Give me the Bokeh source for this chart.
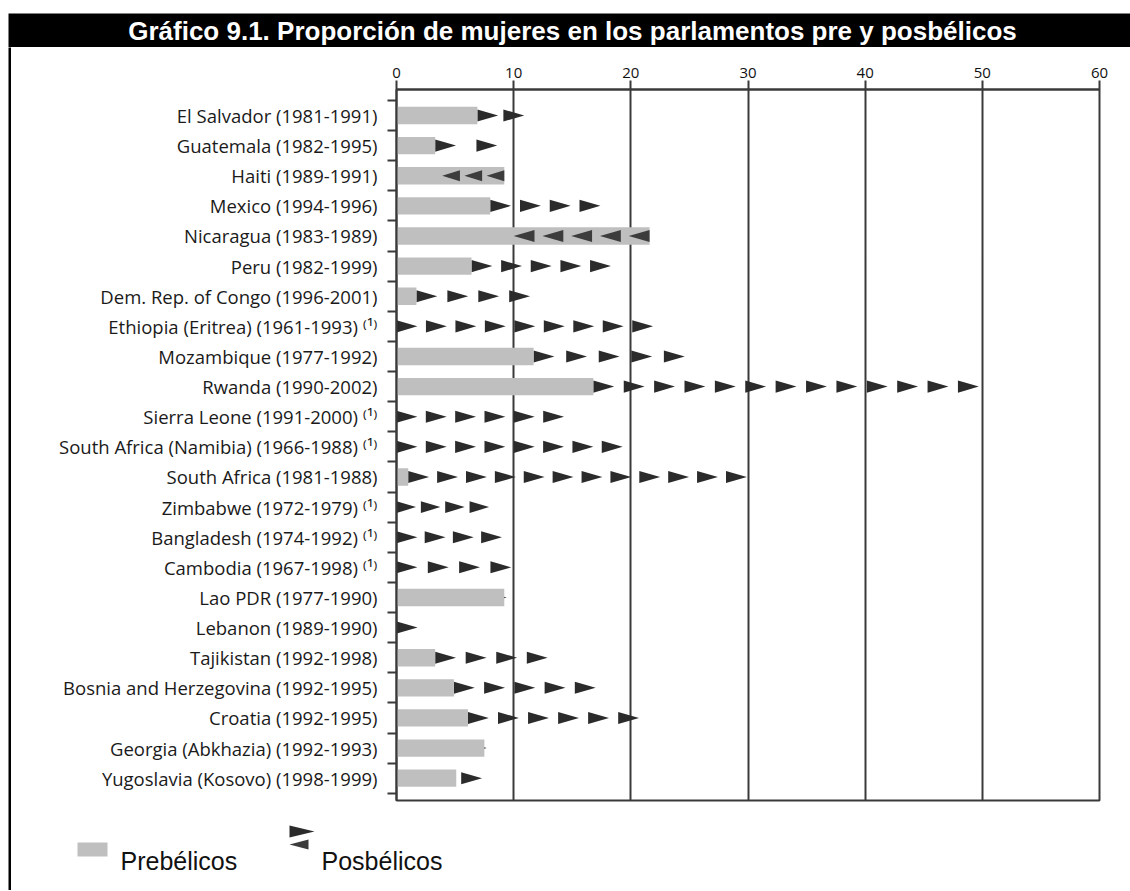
from bokeh.plotting import figure
from bokeh.models import Range1d, FixedTicker
from bokeh.layouts import column, row
from bokeh.core.properties import value
from bokeh.embed import file_html
from bokeh.resources import INLINE

# ---------------- data ----------------
paises = [
    "El Salvador (1981-1991)",
    "Guatemala (1982-1995)",
    "Haiti (1989-1991)",
    "Mexico (1994-1996)",
    "Nicaragua (1983-1989)",
    "Peru (1982-1999)",
    "Dem. Rep. of Congo (1996-2001)",
    "Ethiopia (Eritrea) (1961-1993) \u207d\u00b9\u207e",
    "Mozambique (1977-1992)",
    "Rwanda (1990-2002)",
    "Sierra Leone (1991-2000) \u207d\u00b9\u207e",
    "South Africa (Namibia) (1966-1988) \u207d\u00b9\u207e",
    "South Africa (1981-1988)",
    "Zimbabwe (1972-1979) \u207d\u00b9\u207e",
    "Bangladesh (1974-1992) \u207d\u00b9\u207e",
    "Cambodia (1967-1998) \u207d\u00b9\u207e",
    "Lao PDR (1977-1990)",
    "Lebanon (1989-1990)",
    "Tajikistan (1992-1998)",
    "Bosnia and Herzegovina (1992-1995)",
    "Croatia (1992-1995)",
    "Georgia (Abkhazia) (1992-1993)",
    "Yugoslavia (Kosovo) (1998-1999)",
]
prebelicos = [6.9, 3.3, 9.2, 8.0, 21.6, 6.4, 1.7, 0.0, 11.7, 16.8, 0.0, 0.0,
              1.0, 0.0, 0.0, 0.0, 9.2, 0.0, 3.3, 4.9, 6.1, 7.5, 5.1]
posbelicos = [10.9, 8.6, 3.9, 17.4, 10.0, 18.3, 11.4, 21.9, 24.6, 49.7, 14.3, 19.3,
              29.9, 7.9, 9.0, 9.8, 9.4, 1.8, 12.9, 17.0, 20.7, 7.7, 7.3]
marcas = [2, 2, 3, 4, 5, 5, 4, 9, 5, 13, 6, 8, 12, 4, 4, 4, 1, 1, 4, 5, 6, 1, 1]
x_ticks = [0, 10, 20, 30, 40, 50, 60]
titulo = "Gráfico 9.1. Proporción de mujeres en los parlamentos pre y posbélicos"
leyenda = ["Prebélicos", "Posbélicos"]

# ---------------- style constants ----------------
PAGE_W = 1130
TITLE_H, MAIN_H, LEG_H = 47, 763, 80
X_IN = 11  # page x where the content right of the left border starts
GRID = "#3a3a3a"
BAR = "#bfbfbf"
MARK_R = "#2b2b2b"
MARK_L = "#3c3c3c"
N = len(paises)
rows = list(range(N))


def blank(x0, x1, y0, y1):
    f = figure(width=x1 - x0, height=y1 - y0, x_range=Range1d(x0, x1), y_range=Range1d(y1, y0),
               x_axis_location=None, y_axis_location=None, min_border=0,
               output_backend="svg", toolbar_location=None)
    f.grid.visible = False
    f.outline_line_color = None
    f.background_fill_color = "white"
    f.border_fill_color = "white"
    return f


# ---------------- title bar ----------------
t = blank(0, PAGE_W, 0, TITLE_H)
t.quad(left=[8], right=[PAGE_W], top=[13], bottom=[46.7], fill_color="black", line_color=None)
t.text(x=[572], y=[30], text=[titulo], text_align="center", text_baseline="middle",
       text_color="white", text_font=value("Liberation Sans"), text_font_style="bold",
       text_font_size="26px")

# ---------------- left border strip (3px wide, placed at x=8) ----------------
s = figure(width=3, height=MAIN_H + LEG_H, x_range=Range1d(0, 1), y_range=Range1d(0, 1),
           x_axis_location=None, y_axis_location=None, min_border=0, margin=(0, 0, 0, 8),
           output_backend="svg", toolbar_location=None)
s.grid.visible = False
s.outline_line_color = None
s.background_fill_color = "black"
s.border_fill_color = "black"

# ---------------- main chart ----------------
p = figure(width=PAGE_W - X_IN, height=MAIN_H,
           x_range=Range1d(0, 60), y_range=Range1d(N - 1 + 0.74, -0.863),
           x_axis_location="above", output_backend="svg", toolbar_location=None,
           min_border_left=385, min_border_right=31, min_border_top=42, min_border_bottom=10)
p.background_fill_color = "white"
p.border_fill_color = "white"
p.outline_line_color = GRID
p.outline_line_width = 2
p.outline_line_alpha = 1

W_MARK, H_MARK = 1.78, 0.40
rxs, rys, lxs, lys = [], [], [], []
for i, (a, b, n) in enumerate(zip(prebelicos, posbelicos, marcas)):
    if n == 0:
        continue
    d = abs(b - a)
    if n == 1:
        w, step = W_MARK, 0.0
    else:
        w = min(W_MARK, 0.8 * d / (n - 0.2))
        step = (d - w) / (n - 1)
    h = H_MARK * (w / W_MARK) ** 0.5
    for j in range(n):
        if b >= a:
            tip = b - j * step
            rxs.append([tip - w, tip, tip - w])
            rys.append([i - h / 2, i, i + h / 2])
        else:
            tip = b + j * step
            lxs.append([tip + w, tip, tip + w])
            lys.append([i - h / 2, i, i + h / 2])

p.patches(xs=rxs, ys=rys, fill_color=MARK_R, line_color=None)
p.hbar(y=rows, left=0, right=prebelicos, height=0.575, fill_color=BAR, line_color=None)
p.patches(xs=lxs, ys=lys, fill_color=MARK_L, line_color=None)

xa = p.xaxis[0]
xa.ticker = FixedTicker(ticks=x_ticks)
xa.major_label_text_font = "Open Sans"
xa.major_label_text_font_size = "15px"
xa.major_label_text_color = "#111111"
xa.major_tick_out = 9
xa.major_tick_in = 0
xa.major_tick_line_width = 2
xa.major_tick_line_color = GRID
xa.minor_tick_line_color = None
xa.axis_line_width = 2
xa.axis_line_color = GRID
xa.major_label_standoff = 3

ya = p.yaxis[0]
ya.ticker = FixedTicker(ticks=rows, minor_ticks=[r - 0.5 for r in range(N + 1)])
ya.major_label_overrides = {r: paises[r] for r in rows}
ya.major_label_text_font = "Open Sans"
ya.major_label_text_font_size = "18.5px"
ya.major_label_text_color = "#1a1a1a"
ya.major_tick_line_color = None
ya.major_tick_out = 0
ya.major_tick_in = 0
ya.minor_tick_out = 9
ya.minor_tick_in = 0
ya.minor_tick_line_width = 2
ya.minor_tick_line_color = GRID
ya.axis_line_width = 2
ya.axis_line_color = GRID
ya.major_label_standoff = 10

p.xgrid.ticker = FixedTicker(ticks=x_ticks[1:-1])
p.xgrid.grid_line_color = GRID
p.xgrid.grid_line_width = 2
p.ygrid.grid_line_color = None

# ---------------- legend strip ----------------
Y0 = TITLE_H + MAIN_H
lg = blank(X_IN, PAGE_W, Y0, Y0 + LEG_H)
lg.quad(left=[77], right=[107], top=[842], bottom=[856], fill_color=BAR, line_color=None)
lg.text(x=[120], y=[860], text=[leyenda[0]], text_align="left", text_baseline="alphabetic",
        text_color="#111111", text_font=value("Liberation Sans"), text_font_size="25px")
lg.patches(xs=[[289, 314, 289]], ys=[[825, 831, 837]], fill_color=MARK_R, line_color=None)
lg.patches(xs=[[308, 289, 308]], ys=[[839, 844, 849]], fill_color=MARK_L, line_color=None)
lg.text(x=[321], y=[860], text=[leyenda[1]], text_align="left", text_baseline="alphabetic",
        text_color="#111111", text_font=value("Liberation Sans"), text_font_size="25px")

layout = column(t, row(s, column(p, row(lg))))
open("out.html", "w").write(file_html(layout, INLINE))
